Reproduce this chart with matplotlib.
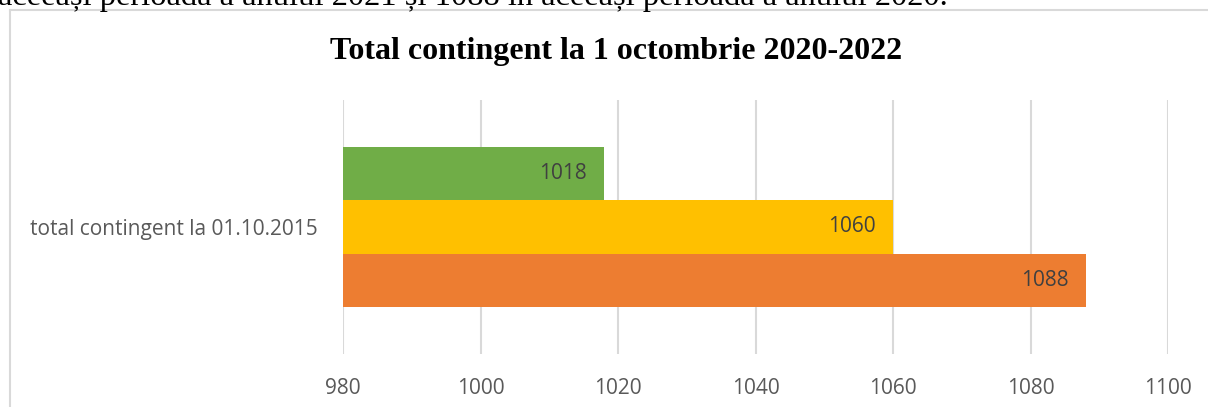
import matplotlib
matplotlib.use("Agg")
import matplotlib.pyplot as plt
from matplotlib.lines import Line2D

# data
category = "total contingent la 01.10.2015"
years = ["2020", "2021", "2022"]
values = [1088, 1060, 1018]
colors = ["#ED7D31", "#FFC000", "#70AD47"]
xticks = [980, 1000, 1020, 1040, 1060, 1080, 1100]

title = "Total contingent la 1 octombrie 2020-2022"
body_text = "aceeași perioadă a anului 2021 și 1088 în aceeași perioadă a anului 2020."

W, H = 1208, 407
fig = plt.figure(figsize=(W / 100, H / 100), dpi=100)

# axes placed to match the plot area of the reference (pixels)
left, right, top, bottom = 343, 1168, 100, 354
ax = fig.add_axes([left / W, 1 - bottom / H, (right - left) / W, (bottom - top) / H])

bar_h = 0.209
offsets = [-bar_h, 0.0, bar_h]
for v, c, off in zip(values, colors, offsets):
    ax.barh(off, v - xticks[0], left=xticks[0], height=bar_h, color=c, zorder=2)
    ax.annotate(str(v), xy=(v, off), xytext=(-17, 0), textcoords="offset pixels",
                ha="right", va="center", fontsize=15, family="Open Sans",
                color="#404040", zorder=3)

ax.set_xlim(xticks[0], xticks[-1])
ax.set_ylim(-0.5, 0.5)
ax.set_xticks(xticks)
ax.set_xticklabels([str(t) for t in xticks], fontsize=15, family="Open Sans", color="#595959")
ax.set_yticks([0])
ax.set_yticklabels([category], fontsize=15, family="Open Sans", color="#595959")
ax.tick_params(axis="both", length=0)
ax.tick_params(axis="x", pad=17)
ax.tick_params(axis="y", pad=18)
ax.grid(axis="x", color="#D9D9D9", linewidth=1.5, zorder=0)
for s in ax.spines.values():
    s.set_visible(False)

fig.text(616 / W, 1 - 59 / H, title, ha="center", va="baseline", fontsize=23,
         family="Liberation Serif", fontweight="bold", color="black")

# cut-off line of document text above the chart
fig.text(-2 / W, 1 - 5 / H, body_text, ha="left", va="baseline", fontsize=23.4,
         family="Liberation Serif", color="black")

# chart area border (left and top edges visible)
fig.add_artist(Line2D([9.5 / W, 9.5 / W], [0, 1 - 9.5 / H], color="#D9D9D9", linewidth=1.5))
fig.add_artist(Line2D([9.5 / W, 1], [1 - 9.5 / H, 1 - 9.5 / H], color="#D9D9D9", linewidth=1.5))

fig.savefig("out.png", dpi=100)
